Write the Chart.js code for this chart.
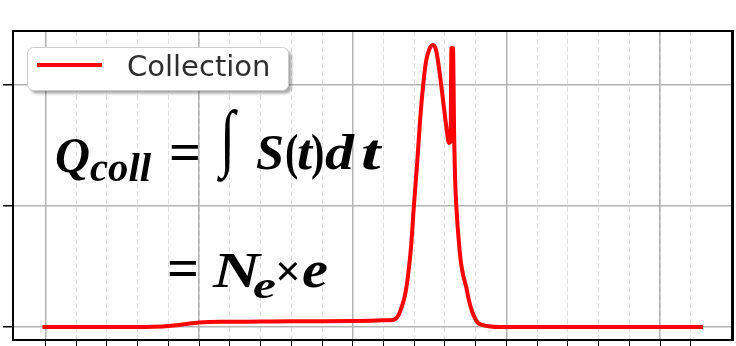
<!DOCTYPE html>
<html>
<head>
<meta charset="utf-8">
<script src="https://cdn.jsdelivr.net/npm/chart.js@4.4.0/dist/chart.umd.min.js"></script>
<style>
html,body{margin:0;padding:0;background:#fff;}
canvas{display:block;}
</style>
</head>
<body>
<canvas id="canvasDiv" width="736" height="346"></canvas>
<script>
var seriesName = "Collection";
var timeX = [-0.1, 1, 2, 3, 3.5, 4.0, 4.5, 5.0, 6.0, 7.0, 8.0, 9.0, 10.0, 10.6, 11.0, 11.31, 11.47, 11.60,
  11.70, 11.80, 11.90, 11.99, 12.09, 12.19, 12.29, 12.38, 12.48, 12.61, 12.71, 12.84, 12.94, 13.04, 13.13,
  13.18, 13.21, 13.26, 13.30, 13.33, 13.39, 13.46, 13.52, 13.59, 13.69, 13.78, 13.88, 13.98, 14.07,
  14.24, 14.47, 14.79, 16, 18, 20, 21.4];
var signalY = [0, 0, 0, 0, 0.002, 0.008, 0.022, 0.038, 0.043, 0.045, 0.047, 0.048, 0.05, 0.052, 0.055, 0.058, 0.091, 0.173,
  0.264, 0.429, 0.676, 1.006, 1.336, 1.707, 1.995, 2.185, 2.284, 2.326, 2.284, 2.070, 1.864, 1.658, 1.518,
  1.53, 2.30, 2.30, 1.54, 1.21, 0.91, 0.68, 0.53, 0.43, 0.33, 0.22, 0.13, 0.07, 0.035,
  0.015, 0.004, 0, 0, 0, 0, 0];
var minorTicks = [0,1,2,3,4,5,6,7,8,9,10,11,12,13,14,15,16,17,18,19,20,21];
var majorTicks = [0,5,10,15,20];
var yTicks = [0,1,2];
var xMin = -1.058, xMax = 22.34;
var yMin = -0.107, yMax = 2.441;

var points = [];
for (var i = 0; i < timeX.length; i++) points.push({x: timeX[i], y: signalY[i]});

function useTicks(list) {
  return function (axis) {
    axis.ticks = list.map(function (v) { return {value: v}; });
  };
}

// text pieces of the formula: text, left, right, baseline, font, vertical stretch
var formula = [
  ["Q", 55, 90, 172, 'italic bold 50px "Liberation Serif"'],
  ["coll", 90, 151, 181, 'italic bold 40px "Liberation Serif"'],
  ["=", 169, 201, 170, 'bold 54px "Liberation Serif"'],
  ["\u222B", 220, 235, 162, 'bold 64px "Liberation Serif", "DejaVu Serif"', 1.16],
  ["S", 256, 284, 169, 'italic bold 50px "Liberation Serif"'],
  ["(", 285, 297, 169, 'bold 50px "Liberation Serif"'],
  ["t", 297, 312, 169, 'italic bold 50px "Liberation Serif"'],
  [")", 311, 322, 169, 'bold 50px "Liberation Serif"'],
  ["d", 325, 354, 169, 'italic bold 50px "Liberation Serif"'],
  ["t", 361, 385, 169, 'italic bold 50px "Liberation Serif"'],
  ["=", 167, 199, 286, 'bold 54px "Liberation Serif"'],
  ["N", 213, 260, 287, 'italic bold 50px "Liberation Serif"'],
  ["e", 253, 276, 298, 'italic bold 38px "Liberation Serif"'],
  ["\u00D7", 275, 301, 286, 'bold 44px "Liberation Serif"'],
  ["e", 302, 328, 287, 'italic bold 52px "Liberation Serif"']
];

var extras = {
  id: 'extras',
  afterDatasetsDraw: function (chart) {
    var ctx = chart.ctx;
    var ds = chart.data.datasets[0];
    // legend box
    ctx.save();
    ctx.shadowColor = 'rgba(0,0,0,0.35)';
    ctx.shadowOffsetX = 3;
    ctx.shadowOffsetY = 3;
    ctx.shadowBlur = 3;
    ctx.fillStyle = '#fff';
    ctx.beginPath();
    ctx.roundRect(27.5, 47.5, 261, 43, 6);
    ctx.fill();
    ctx.restore();
    ctx.save();
    ctx.strokeStyle = '#cccccc';
    ctx.lineWidth = 1;
    ctx.beginPath();
    ctx.roundRect(27.5, 47.5, 261, 43, 6);
    ctx.stroke();
    ctx.strokeStyle = ds.borderColor;
    ctx.lineWidth = 4;
    ctx.beginPath();
    ctx.moveTo(37, 65);
    ctx.lineTo(102, 65);
    ctx.stroke();
    ctx.fillStyle = '#2e2e2e';
    ctx.font = '29px "DejaVu Sans"';
    ctx.textBaseline = 'alphabetic';
    ctx.fillText(ds.label, 127, 76);
    ctx.restore();

    // formula
    ctx.save();
    ctx.fillStyle = '#000';
    ctx.textBaseline = 'alphabetic';
    formula.forEach(function (p) {
      ctx.font = p[4];
      var w = ctx.measureText(p[0]).width;
      var sx = (p[2] - p[1]) / w;
      sx = Math.max(0.8, Math.min(1.4, sx));
      ctx.save();
      ctx.translate(p[1], p[3]);
      ctx.scale(sx, p[5] || 1);
      ctx.fillText(p[0], 0, 0);
      ctx.restore();
    });
    ctx.restore();
  }
};

new Chart(document.getElementById('canvasDiv'), {
  type: 'line',
  data: {
    datasets: [{
      label: seriesName,
      data: points,
      borderColor: '#ff0000',
      borderWidth: 4,
      pointRadius: 0,
      fill: false,
      cubicInterpolationMode: 'monotone',
      xAxisID: 'x',
      yAxisID: 'y'
    }]
  },
  options: {
    responsive: false,
    animation: false,
    layout: {padding: {left: 3, top: 31, right: 4, bottom: 0}},
    plugins: {legend: {display: false}, tooltip: {enabled: false}},
    scales: {
      x: {
        type: 'linear', position: 'bottom', min: xMin, max: xMax,
        ticks: {display: false},
        afterBuildTicks: useTicks(minorTicks),
        grid: {color: '#dedede', lineWidth: 1, tickLength: 6, tickColor: '#000', tickWidth: 1, tickBorderDash: []},
        border: {display: true, color: '#000', width: 2, dash: [5, 3]}
      },
      xTop: {
        type: 'linear', position: 'top', min: xMin, max: xMax,
        ticks: {display: false},
        afterBuildTicks: useTicks(majorTicks),
        grid: {color: '#b3b3b3', lineWidth: 1.5, drawTicks: false},
        border: {display: true, color: '#000', width: 2}
      },
      y: {
        type: 'linear', position: 'left', min: yMin, max: yMax,
        ticks: {display: false},
        afterBuildTicks: useTicks(yTicks),
        grid: {color: '#b3b3b3', lineWidth: 1.5, tickLength: 10, tickColor: '#000', tickWidth: 1.5},
        border: {display: true, color: '#000', width: 2}
      },
      yRight: {
        type: 'linear', position: 'right', min: yMin, max: yMax,
        ticks: {display: false},
        grid: {display: false, drawTicks: false},
        border: {display: true, color: '#000', width: 3}
      }
    }
  },
  plugins: [extras]
});
</script>
</body>
</html>
